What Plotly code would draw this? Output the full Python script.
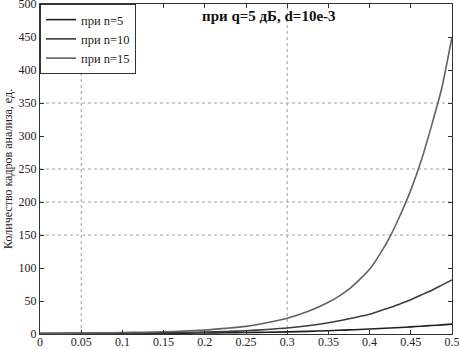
import plotly.graph_objects as go

x_vals = [0, 0.025, 0.05, 0.075, 0.1, 0.125, 0.15, 0.175, 0.2, 0.225, 0.25,
          0.275, 0.3, 0.325, 0.35, 0.3625, 0.375, 0.3875, 0.4, 0.4125, 0.425,
          0.4375, 0.45, 0.4625, 0.475, 0.4875, 0.5]
n5 = [0.5, 0.6, 0.7, 0.8, 0.9, 1.0, 1.2, 1.4, 1.6, 1.9, 2.2,
      2.6, 3.2, 4.0, 5.0, 5.6, 6.2, 6.9, 7.6, 8.3, 9.0,
      9.9, 10.8, 11.8, 12.8, 13.9, 15.0]
n10 = [0.8, 1.0, 1.1, 1.3, 1.5, 1.7, 2.0, 2.5, 3.0, 3.8, 5.0,
       6.8, 9.0, 12.5, 17.0, 20.0, 23.0, 26.5, 30.0, 35.0, 40.0,
       46.0, 52.0, 59.0, 66.0, 74.0, 82.0]
n15 = [1.0, 1.2, 1.5, 1.8, 2.2, 2.7, 3.3, 4.5, 6.0, 8.5, 11.5,
       17.0, 24.0, 34.0, 48.0, 57.0, 68.0, 82.0, 98.0, 121.0, 148.0,
       181.0, 218.0, 262.0, 315.0, 372.0, 450.0]
series_names = ["при n=5", "при n=10", "при n=15"]
series_colors = ["#1e1e1e", "#3c3c3c", "#626262"]

x_ticks = [0, 0.05, 0.1, 0.15, 0.2, 0.25, 0.3, 0.35, 0.4, 0.45, 0.5]
x_tick_text = ["0", "0.05", "0.1", "0.15", "0.2", "0.25", "0.3", "0.35", "0.4", "0.45", "0.5"]
y_ticks = [0, 50, 100, 150, 200, 250, 300, 350, 400, 450, 500]
grid_x = [0.05, 0.3]
grid_y = [150, 200, 250, 350]

title_text = "при q=5 дБ, d=10e-3"
y_title = "Количество кадров анализа, ед."

font_family = "Liberation Serif, Times New Roman, serif"

fig = go.Figure()
for name, ys, col in zip(series_names, [n5, n10, n15], series_colors):
    fig.add_trace(go.Scatter(x=x_vals, y=ys, mode="lines", name=name,
                             line=dict(color=col, width=1.6, shape="spline", smoothing=0.6)))

shapes = []
for gx in grid_x:
    shapes.append(dict(type="line", xref="x", yref="paper", x0=gx, x1=gx, y0=0, y1=1,
                       line=dict(color="#a0a0a0", width=1, dash="dot"), layer="below"))
for gy in grid_y:
    shapes.append(dict(type="line", xref="paper", yref="y", x0=0, x1=1, y0=gy, y1=gy,
                       line=dict(color="#a0a0a0", width=1, dash="dot"), layer="below"))

fig.update_layout(
    width=459, height=349,
    margin=dict(l=40, r=7, t=4, b=15, autoexpand=False),
    paper_bgcolor="white", plot_bgcolor="white",
    font=dict(family=font_family, size=12, color="#222"),
    shapes=shapes,
    showlegend=True,
    hovermode=False,
    legend=dict(x=0, y=1, xanchor="left", yanchor="top",
                bgcolor="white", bordercolor="#333", borderwidth=1,
                font=dict(family=font_family, size=12.5, color="#222"),
                itemwidth=30, tracegroupgap=0),
    annotations=[
        dict(text="<b>" + title_text + "</b>", xref="paper", yref="paper",
             x=(200 - 40) / 412, y=0.995, xanchor="left", yanchor="top", showarrow=False,
             font=dict(family=font_family, size=15, color="#111")),
        dict(text=y_title, xref="paper", yref="paper", x=-32 / 412, y=0.5,
             xanchor="center", yanchor="middle", textangle=-90, showarrow=False,
             font=dict(family=font_family, size=12, color="#222")),
    ],
    xaxis=dict(range=[0, 0.5], tickvals=x_ticks, ticktext=x_tick_text,
               showgrid=False, zeroline=False, showline=True, linecolor="#333",
               linewidth=1, mirror="allticks", ticks="inside", ticklen=4,
               tickcolor="#333", tickfont=dict(size=12), automargin=False,
               ticklabeloverflow="allow", ticklabelstandoff=-3),
    yaxis=dict(range=[0, 500], tickvals=y_ticks, showgrid=False, zeroline=False,
               showline=True, linecolor="#333", linewidth=1, mirror="allticks",
               ticks="inside", ticklen=4, tickcolor="#333", tickfont=dict(size=12),
               automargin=False, ticklabeloverflow="allow"),
)

fig.write_html("out.html", config={"displayModeBar": False, "staticPlot": True},
               post_script="document.body.style.margin='0px';document.body.style.overflow='hidden';")
